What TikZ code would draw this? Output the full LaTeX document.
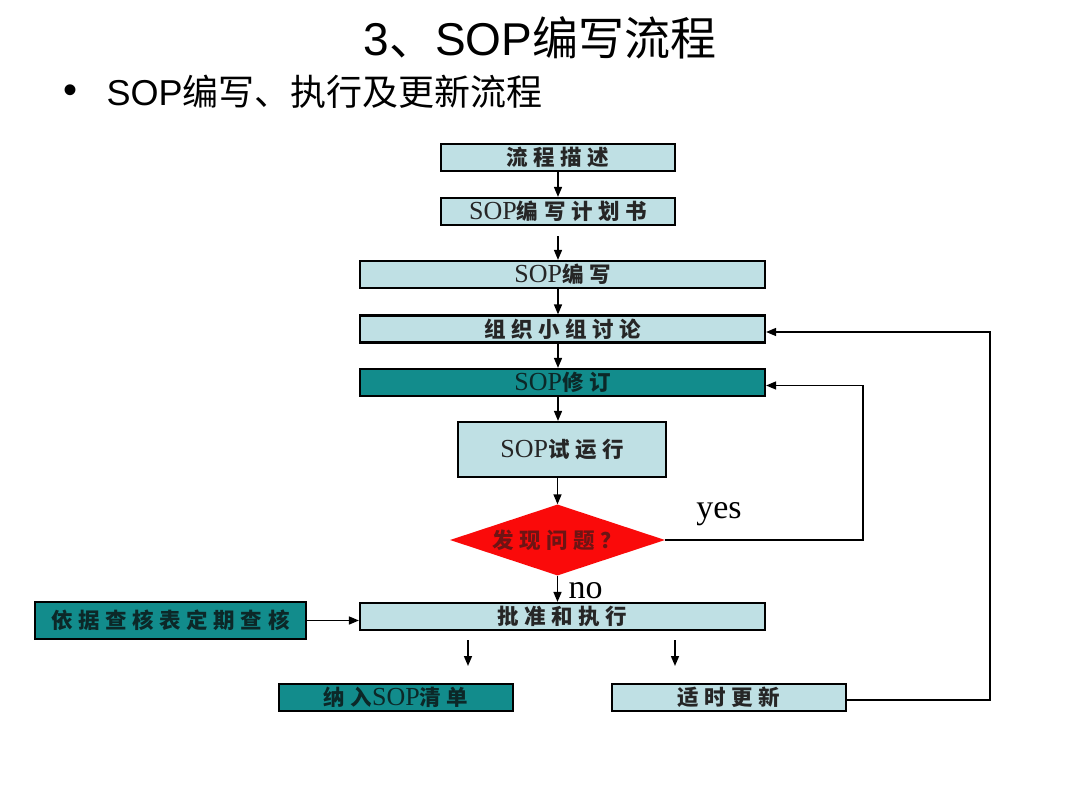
\documentclass[tikz,border=0pt]{standalone}
\usepackage{fontspec}
\setmainfont{Liberation Sans}
\newfontfamily\cjk{Noto Sans CJK SC}
\newfontfamily\boxcjk[LetterSpace=26]{Noto Sans CJK SC}
\newfontfamily\romanfont{Liberation Serif}
\usetikzlibrary{arrows.meta, positioning, shapes.geometric}
\definecolor{paleblue}{RGB}{191,224,228}
\definecolor{sopteal}{RGB}{18,140,140}
\definecolor{alarmred}{RGB}{250,10,10}
\definecolor{darkred}{RGB}{110,20,20}
\definecolor{inkteal}{RGB}{12,40,40}
\newcommand{\sopword}{{\romanfont\mdseries\fontsize{26}{26}\selectfont SOP}}

\tikzset{
  stepbox/.style={draw=black, line width=2.2pt, fill=paleblue, inner sep=0pt,
    text=black!85, font=\boxcjk\bfseries\fontsize{21.5}{21.5}\selectfont},
  narrowbox/.style={stepbox, minimum width=234pt, minimum height=27pt},
  widebox/.style={stepbox, minimum width=405pt, minimum height=27pt},
  tealbox/.style={fill=sopteal, text=inkteal},
  decision/.style={diamond, fill=alarmred, inner sep=0pt, aspect=3,
    minimum width=215pt, minimum height=71pt, text=darkred,
    font=\boxcjk\bfseries\fontsize{21.5}{21.5}\selectfont},
  flow/.style={-{Triangle[length=10pt,width=8pt]}, line width=1.5pt},
  answer/.style={font=\romanfont\fontsize{34}{34}\selectfont}
}

\begin{document}
\begin{tikzpicture}[x=1pt, y=-1pt]
\useasboundingbox[fill=white] (0,0) rectangle (1080,810);

% heading
\node[font=\fontsize{46}{46}\selectfont] (title) at (540,38) {3{\cjk 、}SOP{\cjk 编写流程}};
\node[font=\fontsize{40}{40}\selectfont] (bullet) at (71,94) {\textbullet};
\node[anchor=west, font=\fontsize{36}{36}\selectfont] (subtitle) at (103,92) {SOP{\cjk 编写、执行及更新流程}};

% main column
\node[narrowbox] (describe) at (558,157.5) {流程描述};
\node[narrowbox] (plan) at (558,211.5) {\sopword 编写计划书};
\node[widebox] (write) at (562.5,274.5) {\sopword 编写};
\node[widebox] (discuss) at (562.5,329) {组织小组讨论};
\node[widebox, tealbox] (revise) at (562.5,382.5) {\sopword 修订};
\node[stepbox, minimum width=208pt, minimum height=55pt] (trial) at (562,449.5) {\sopword 试运行};
\node[decision] (problem) at (557.5,540) {发现问题？};
\node[widebox] (approve) at (562.5,616.5) {批准和执行};

% side and bottom boxes
\node[stepbox, tealbox, minimum width=271pt, minimum height=37pt] (audit) at (170.5,620.5) {依据查核表定期查核};
\node[narrowbox, tealbox] (listing) at (396,697.5) {纳入\sopword 清单};
\node[narrowbox] (update) at (729,697.5) {适时更新};

% turning points
\coordinate (yesturn) at (863,540);
\coordinate (updateturn) at (990,700);
\coordinate (leftdrop) at (468,640);
\coordinate (leftdropend) at (468,666);
\coordinate (rightdrop) at (675,640);
\coordinate (rightdropend) at (675,666);

% arrows
\draw[flow] (describe.south) -- (plan.north);
\draw[flow] ([yshift=-10pt]plan.south) -- (plan.south |- write.north);
\draw[flow] (write.south -| describe.south) -- (discuss.north -| describe.south);
\draw[flow] (discuss.south -| describe.south) -- (revise.north -| describe.south);
\draw[flow] (revise.south -| describe.south) -- (trial.north -| describe.south);
\draw[flow] (trial.south -| problem.north) -- (problem.north);
\draw[flow] (problem.south) -- (problem.south |- approve.north)
  node[midway, right, answer, xshift=7pt, yshift=-2pt] (no) {no};
\draw[flow] (problem.east) -- (yesturn) |- ([yshift=-3pt]revise.east);
\node[answer] (yes) at (719,514) {yes};
\draw[flow] (update.east |- updateturn) -- (updateturn) |- ([yshift=-3pt]discuss.east);
\draw[flow] (audit.east) -- (audit.east -| approve.west);
\draw[flow] (leftdrop) -- (leftdropend);
\draw[flow] (rightdrop) -- (rightdropend);
\end{tikzpicture}
\end{document}
